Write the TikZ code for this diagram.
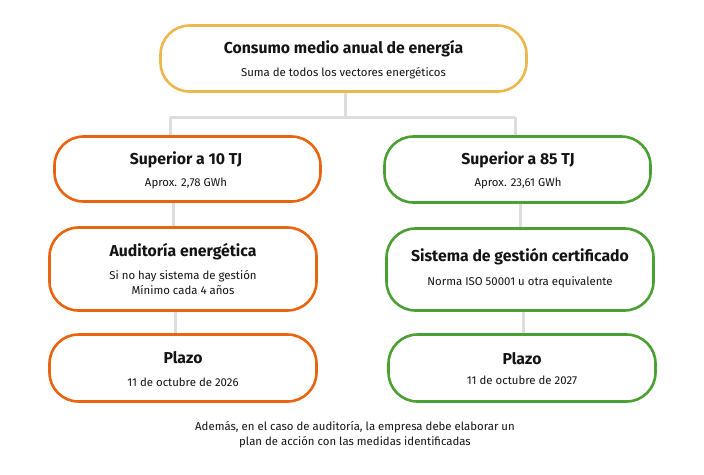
\documentclass[tikz,border=0pt]{standalone}
\usepackage{fontspec}
\setmainfont{Fira Sans}
\usetikzlibrary{backgrounds}
\definecolor{cyel}{HTML}{ECB74C}
\definecolor{corg}{HTML}{E8640F}
\definecolor{cgrn}{HTML}{4BA033}
\definecolor{cgry}{HTML}{DDDDDD}
\definecolor{ctxt}{HTML}{141414}
\tikzset{
  box/.style={draw=#1, line width=2.6pt, fill=white, rounded corners=29pt, inner sep=0pt},
  ttl/.style={font=\fontsize{15.8}{18}\selectfont\bfseries, text=ctxt, inner sep=0pt},
  sub/.style={font=\fontsize{11.4}{15.5}\selectfont, text=ctxt, inner sep=0pt, align=center},
  conn/.style={draw=cgry, line width=3pt},
}
\begin{document}
\begin{tikzpicture}[x=1pt,y=-1pt]
\useasboundingbox (0,0) rectangle (704,474);
% boxes
\node[box=cyel, minimum width=366pt, minimum height=66pt] (top) at (343.5,58.5) {};
\node[box=corg, minimum width=266pt, minimum height=65pt] (l1) at (187.5,169) {};
\node[box=corg, minimum width=267pt, minimum height=83pt] (l2) at (183,269) {};
\node[box=corg, minimum width=267pt, minimum height=67pt] (l3) at (183,368) {};
\node[box=cgrn, minimum width=266pt, minimum height=66pt] (r1) at (517.5,169.5) {};
\node[box=cgrn, minimum width=267pt, minimum height=82pt] (r2) at (520,269.5) {};
\node[box=cgrn, minimum width=267pt, minimum height=67pt] (r3) at (522,368) {};
% connectors
\coordinate (jc) at (345,117);
\coordinate (jl) at (170,117);
\coordinate (jr) at (515,117);
\begin{scope}[on background layer]
\draw[conn] (jc |- top.south) -- (jc);
\draw[conn] (jl) -- (jr);
\draw[conn] (jl) -- (jl |- l1.north);
\draw[conn] (jr) -- (jr |- r1.north);
\draw[conn] (173,0 |- l1.south) -- (173,0 |- l2.north);
\draw[conn] (175,0 |- l2.south) -- (175,0 |- l3.north);
\draw[conn] (520,0 |- r1.south) -- (520,0 |- r2.north);
\draw[conn] (523,0 |- r2.south) -- (523,0 |- r3.north);
\end{scope}
% texts
\node[ttl] (topt) at (343.5,49) {Consumo medio anual de energía};
\node[sub] (tops) at (343.5,73) {Suma de todos los vectores energéticos};
\node[ttl] (l1t) at (186,160) {Superior a 10 TJ};
\node[sub] (l1s) at (186,183) {Aprox. 2,78 GWh};
\node[ttl] (l2t) at (183,252) {Auditoría energética};
\node[sub] (l2s) at (183,282.5) {Si no hay sistema de gestión\\Mínimo cada 4 años};
\node[ttl] (l3t) at (183,358) {Plazo};
\node[sub] (l3s) at (183,382) {11 de octubre de 2026};
\node[ttl] (r1t) at (518,160) {Superior a 85 TJ};
\node[sub] (r1s) at (518,183) {Aprox. 23,61 GWh};
\node[ttl] (r2t) at (520,257) {Sistema de gestión certificado};
\node[sub] (r2s) at (520,282) {Norma ISO 50001 u otra equivalente};
\node[ttl] (r3t) at (522,359) {Plazo};
\node[sub] (r3s) at (522,380) {11 de octubre de 2027};
\node[sub] (foot) at (355,434.5) {Además, en el caso de auditoría, la empresa debe elaborar un\\plan de acción con las medidas identificadas};
\end{tikzpicture}
\end{document}
